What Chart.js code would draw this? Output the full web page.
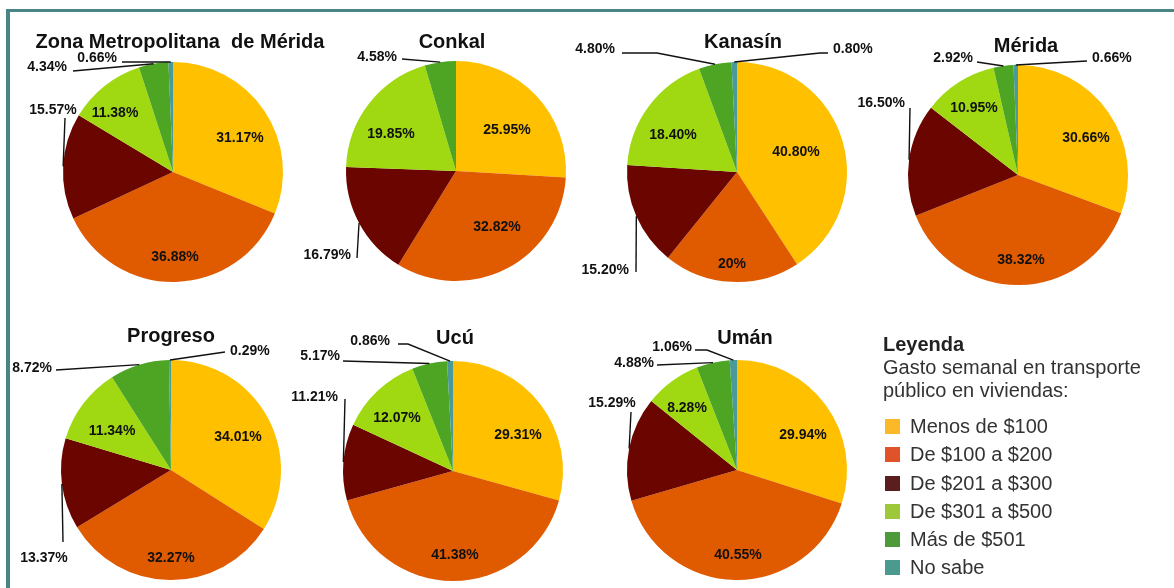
<!DOCTYPE html>
<html lang="es">
<head>
<meta charset="UTF-8" />
<title>Gasto semanal en transporte público</title>
<script src="https://cdn.jsdelivr.net/npm/chart.js@4.4.1/dist/chart.umd.min.js"></script>
<style>
  html, body { margin: 0; padding: 0; background: #fff; }
  body { width: 1174px; height: 588px; position: relative; overflow: hidden; font-family: "Liberation Sans", Arial, sans-serif; }
  .frame { position: absolute; left: 6px; top: 9px; width: 1200px; height: 600px;
           border-top: 3px solid #4a8585; border-left: 4px solid #4a8585; }
  canvas { position: absolute; left: 0; top: 0; }
  #legend { position: absolute; left: 883px; top: 333px; color: #333; font-size: 20px; }
  #legend .ttl { font-weight: bold; color: #222; line-height: 23px; }
  #legend .sub { line-height: 23px; }
  #legend .items { margin-top: 10px; }
  #legend .it { height: 28.3px; line-height: 28px; white-space: nowrap; }
  #legend .sw { display: inline-block; width: 15px; height: 15px; margin: 0 10px 0 2px; vertical-align: -1px; }
</style>
</head>
<body>
<div class="frame"></div>
<div id="legend">
  <div class="ttl">Leyenda</div>
  <div class="sub">Gasto semanal en transporte<br>público en viviendas:</div>
  <div class="items" id="items"></div>
</div>

<script>
const W = 1174, H = 588, R = 110;

const categories = ['Menos de $100', 'De $100 a $200', 'De $201 a $300', 'De $301 a $500', 'Más de $501', 'No sabe'];
const places = ['Zona Metropolitana  de Mérida', 'Conkal', 'Kanasín', 'Mérida', 'Progreso', 'Ucú', 'Umán'];

// porcentajes por municipio, mismo orden que categories
const zonaMetro = [31.17, 36.88, 15.57, 11.38, 4.34, 0.66];
const conkal    = [25.95, 32.82, 16.79, 19.85, 4.58, 0];
const kanasin   = [40.80, 20, 15.20, 18.40, 4.80, 0.80];
const merida    = [30.66, 38.32, 16.50, 10.95, 2.92, 0.66];
const progreso  = [34.01, 32.27, 13.37, 11.34, 8.72, 0.29];
const ucu       = [29.31, 41.38, 11.21, 12.07, 5.17, 0.86];
const uman      = [29.94, 40.55, 15.29, 8.28, 4.88, 1.06];
const series = [zonaMetro, conkal, kanasin, merida, progreso, ucu, uman];

const sliceColors  = ['#FFC000', '#E05A00', '#6B0500', '#A0D911', '#4EA524', '#4A9A9A'];
const legendColors = ['#FBB829', '#E0522A', '#5A1E1E', '#9CC83A', '#4C9A3A', '#4A9A90'];

// placement of each pie and its labels (offsets from pie centre)
const layouts = [
  { cx: 173, cy: 172, title: [180, 42],
    inside: { 0: [67, -34], 1: [2, 85], 3: [-58, -59] },
    outside: {
      2: { pts: [[-108, -54]], text: [-120, -62], align: 'center' },
      4: { pts: [[-100, -101]], text: [-106, -105], align: 'right' },
      5: { pts: [[-51, -110]], text: [-56, -114], align: 'right' } } },
  { cx: 456, cy: 171, title: [452, 42],
    inside: { 0: [51, -41], 1: [41, 56], 3: [-65, -37] },
    outside: {
      2: { pts: [[-99, 87]], text: [-105, 84], align: 'right' },
      4: { pts: [[-54, -112]], text: [-59, -114], align: 'right' } } },
  { cx: 737, cy: 172, title: [743, 42],
    inside: { 0: [59, -20], 1: [-5, 92], 3: [-64, -37] },
    outside: {
      2: { pts: [[-101, 100]], text: [-108, 98], align: 'right' },
      4: { pts: [[-80, -119], [-115, -119]], text: [-122, -123], align: 'right' },
      5: { pts: [[83, -119], [91, -119]], text: [96, -123], align: 'left' } } },
  { cx: 1018, cy: 175, title: [1026, 46],
    inside: { 0: [68, -37], 1: [3, 85], 3: [-44, -67] },
    outside: {
      2: { pts: [[-108, -67]], text: [-113, -72], align: 'right' },
      4: { pts: [[-41, -113]], text: [-45, -117], align: 'right' },
      5: { pts: [[69, -114]], text: [74, -117], align: 'left' } } },
  { cx: 171, cy: 470, title: [171, 336],
    inside: { 0: [67, -33], 1: [0, 88], 3: [-59, -39] },
    outside: {
      2: { pts: [[-108, 72]], text: [-127, 88], align: 'center' },
      4: { pts: [[-115, -100]], text: [-119, -102], align: 'right' },
      5: { pts: [[54, -118]], text: [59, -119], align: 'left' } } },
  { cx: 453, cy: 471, title: [455, 338],
    inside: { 0: [65, -36], 1: [2, 84], 3: [-56, -53] },
    outside: {
      2: { pts: [[-108, -72]], text: [-115, -74], align: 'right' },
      4: { pts: [[-110, -110]], text: [-113, -115], align: 'right' },
      5: { pts: [[-45, -127], [-55, -127]], text: [-63, -130], align: 'right' } } },
  { cx: 737, cy: 470, title: [745, 338],
    inside: { 0: [66, -35], 1: [1, 85], 3: [-50, -62] },
    outside: {
      2: { pts: [[-106, -58]], text: [-125, -67], align: 'center' },
      4: { pts: [[-80, -105]], text: [-83, -107], align: 'right' },
      5: { pts: [[-30, -120], [-42, -120]], text: [-45, -123], align: 'right' } } }
];

const FONT = '"Liberation Sans", Arial, sans-serif';
const fmt = v => Number.isInteger(v) ? v + '%' : v.toFixed(2) + '%';

const sliceLabels = {
  id: 'sliceLabels',
  afterDatasetsDraw(chart, args, opts) {
    const ctx = chart.ctx;
    const lay = opts.layout;
    const vals = chart.data.datasets[0].data;
    const arcs = chart.getDatasetMeta(0).data;
    ctx.save();
    ctx.fillStyle = '#111';
    ctx.strokeStyle = '#111';
    ctx.lineWidth = 1.4;
    ctx.textBaseline = 'middle';

    ctx.font = 'bold 20px ' + FONT;
    ctx.textAlign = 'center';
    ctx.fillText(opts.title, lay.title[0], lay.title[1]);

    ctx.font = 'bold 14px ' + FONT;
    arcs.forEach((arc, i) => {
      const v = vals[i];
      if (!v) return;
      const cx = arc.x, cy = arc.y;
      if (lay.inside[i]) {
        ctx.textAlign = 'center';
        ctx.fillText(fmt(v), cx + lay.inside[i][0], cy + lay.inside[i][1]);
      } else if (lay.outside[i]) {
        const o = lay.outside[i];
        const mid = (arc.startAngle + arc.endAngle) / 2;
        ctx.beginPath();
        ctx.moveTo(cx + Math.cos(mid) * arc.outerRadius, cy + Math.sin(mid) * arc.outerRadius);
        o.pts.forEach(p => ctx.lineTo(cx + p[0], cy + p[1]));
        ctx.stroke();
        ctx.textAlign = o.align;
        ctx.fillText(fmt(v), cx + o.text[0], cy + o.text[1]);
      }
    });
    ctx.restore();
  }
};

series.forEach((vals, k) => {
  const lay = layouts[k];
  const cv = document.createElement('canvas');
  cv.width = W; cv.height = H;
  document.body.appendChild(cv);
  new Chart(cv, {
    type: 'pie',
    data: {
      labels: categories,
      datasets: [{ data: vals, backgroundColor: sliceColors, borderWidth: 0 }]
    },
    options: {
      responsive: false,
      animation: false,
      events: [],
      layout: { padding: { left: lay.cx - R, right: W - lay.cx - R, top: lay.cy - R, bottom: H - lay.cy - R } },
      plugins: {
        legend: { display: false },
        tooltip: { enabled: false },
        sliceLabels: { layout: lay, title: places[k] }
      }
    },
    plugins: [sliceLabels]
  });
});

// leyenda
const items = document.getElementById('items');
categories.forEach((c, i) => {
  const d = document.createElement('div');
  d.className = 'it';
  d.innerHTML = '<span class="sw" style="background:' + legendColors[i] + '"></span>' + c;
  items.appendChild(d);
});
document.getElementById('legend').style.zIndex = 5;
</script>
</body>
</html>
